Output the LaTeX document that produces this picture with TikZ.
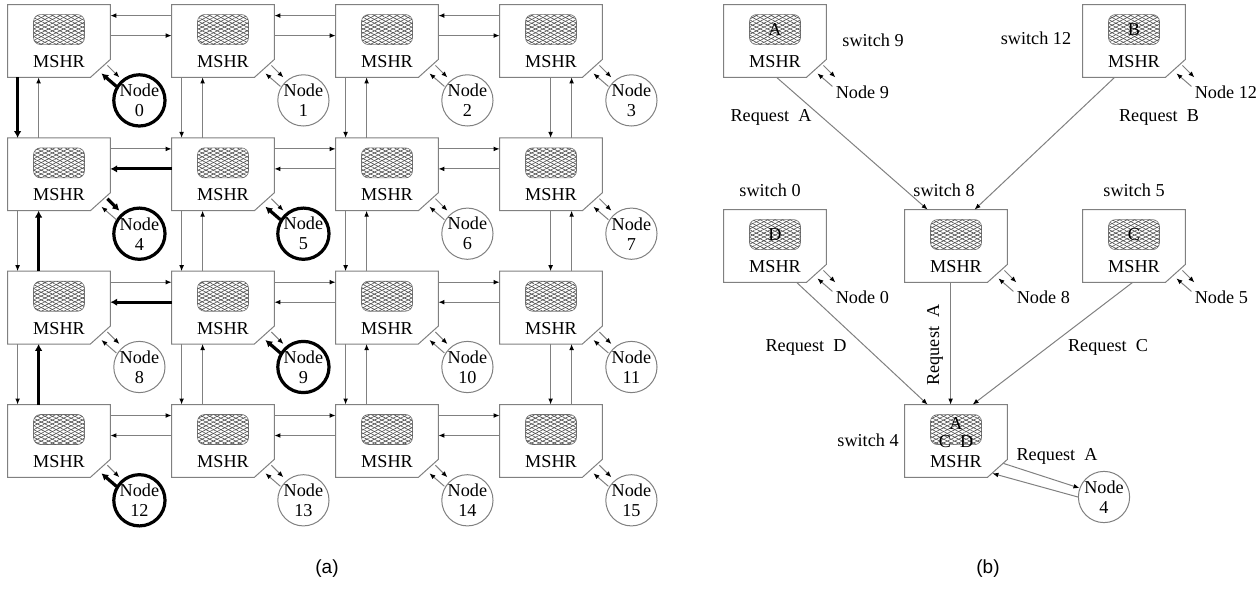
\documentclass[tikz,border=0pt]{standalone}
\usepackage{fontspec}
\setmainfont{Liberation Serif}
\newfontfamily\capsans{Liberation Sans}
\usetikzlibrary{calc,arrows.meta,patterns.meta}

\tikzset{
  wire/.style={draw=black!50, line width=0.5pt},
  link/.style={wire, -{Latex[length=3pt,width=2.4pt,color=black]}},
  boldlink/.style={draw=black, line width=1.6pt, -{Latex[length=3.4pt,width=3.8pt]}},
  boxcore/.style={rectangle, draw=none, minimum width=51pt, minimum height=36pt, inner sep=0pt},
  mesh/.style={rectangle, rounded corners=3.5pt, draw=black!55, line width=0.3pt,
    minimum width=25.5pt, minimum height=15pt, inner sep=0pt,
    pattern={Lines[angle=27,distance=1.7pt,line width=0.3pt]}, pattern color=black!70,
    postaction={pattern={Lines[angle=-27,distance=1.7pt,line width=0.3pt]}, pattern color=black!70}},
  txt/.style={font=\fontsize{9.1}{10}\selectfont, inner sep=0pt},
  pe/.style={circle, draw=black!50, line width=0.5pt, minimum size=25.5pt, inner sep=0pt,
    align=center, font=\fontsize{9.1}{10}\selectfont},
  pebold/.style={pe, draw=black, line width=1.6pt},
  caption/.style={font=\capsans\fontsize{9.5}{11}\selectfont, inner sep=0pt},
}

% switch: chamfered outline, MSHR mesh and its label
\newcommand\swbox[3]{%
  \node[boxcore] (#1) at ({#2+51},{#3+36}) {};
  \draw[wire] (#1.north west) -- (#1.north east) -- ($(#1.south east)+(0,-18)$)
     -- ($(#1.south east)+(-20,0)$) -- (#1.south west) -- cycle;
  \node[mesh] (#1m) at ($(#1.north)+(0,25)$) {};
  \node[txt] (#1t) at ($(#1.north)+(0,57)$) {MSHR};
}
% pair of short links between a switch and its processing node
\newcommand\nodelinks[3]{%
  \draw[#2] ($(#1.south east)+(-3,-12)$) -- ($(#1.south east)+(9,0)$);
  \draw[#3] ($(#1.south east)+(6,9)$) -- ($(#1.south east)+(-9,-4)$);
}

\begin{document}
\begin{tikzpicture}[x=0.5pt, y=-0.5pt]
\useasboundingbox (0,0) rectangle (1256,588);

% ---------- (a) 4x4 mesh ----------
\foreach \i in {0,...,15} {
  \pgfmathtruncatemacro\c{mod(\i,4)}
  \pgfmathtruncatemacro\r{div(\i,4)}
  \pgfmathsetmacro\xl{8+164*\c}
  \pgfmathsetmacro\yt{5+133.3*\r}
  \swbox{s\i}{\xl}{\yt}
}

\foreach \i/\st in {0/pebold,1/pe,2/pe,3/pe,4/pebold,5/pebold,6/pe,7/pe,
                    8/pe,9/pebold,10/pe,11/pe,12/pebold,13/pe,14/pe,15/pe} {
  \node[\st] (n\i) at ($(s\i.south east)+(29,23)$) {Node\\\i};
}

\foreach \i/\so/\si in {0/link/boldlink,1/link/link,2/link/link,3/link/link,
                      4/boldlink/link,5/link/boldlink,6/link/link,7/link/link,
                      8/link/link,9/link/boldlink,10/link/link,11/link/link,
                      12/link/boldlink,13/link/link,14/link/link,15/link/link} {
  \nodelinks{s\i}{\so}{\si}
}

% horizontal channels
\foreach \a/\b/\ry/\ly/\ls in {0/1/31/11/link,1/2/31/11/link,2/3/31/11/link,
    4/5/11/31/boldlink,5/6/11/31/link,6/7/11/31/link,
    8/9/11/31/boldlink,9/10/11/31/link,10/11/11/31/link,
    12/13/11/31/link,13/14/11/31/link,14/15/11/31/link} {
  \draw[link] ($(s\a.north east)+(0,\ry)$) -- ($(s\b.north west)+(0,\ry)$);
  \draw[\ls] ($(s\b.north west)+(0,\ly)$) -- ($(s\a.north east)+(0,\ly)$);
}

% vertical channels
\foreach \a/\b/\dx/\ux/\ds/\us in {0/4/10/31/boldlink/link,4/8/10/31/link/boldlink,8/12/10/31/link/boldlink,
    1/5/10/31/link/link,5/9/10/31/link/link,9/13/10/31/link/link,
    2/6/10/31/link/link,6/10/10/31/link/link,10/14/10/31/link/link,
    3/7/51/72/link/link,7/11/51/72/link/link,11/15/51/72/link/link} {
  \draw[\ds] ($(s\a.south west)+(\dx,0)$) -- ($(s\b.north west)+(\dx,0)$);
  \draw[\us] ($(s\b.north west)+(\ux,0)$) -- ($(s\a.south west)+(\ux,0)$);
}

\node[caption] (capa) at (327,569) {(a)};

% ---------- (b) request merging ----------
\swbox{b9}{724}{5}
\swbox{b12}{1083}{5}
\swbox{b0}{724}{210}
\swbox{b8}{905}{210}
\swbox{b5}{1083}{210}
\swbox{b4}{905}{405}

\node[txt] at (b9m) {A};
\node[txt] at (b12m) {B};
\node[txt] at (b0m) {D};
\node[txt] at (b5m) {C};
\node[txt] at ($(b4m)+(0,-6)$) {A};
\node[txt] at ($(b4m)+(0,12)$) {C\enspace D};

\node[txt] (l9) at (873,40) {switch 9};
\node[txt] (l12) at (1036,38) {switch 12};
\node[txt] (l0) at (770,190) {switch 0};
\node[txt] (l8) at (944,190) {switch 8};
\node[txt] (l5) at (1134,190) {switch 5};
\node[txt] (l4) at (868,440) {switch 4};

\foreach \k in {9,12,0,8,5} {
  \node[txt, anchor=west] (t\k) at ($(b\k.south east)+(9,15)$) {Node \k};
  \nodelinks{b\k}{link}{link}
}

\node[pe] (q4) at (1104,497) {Node\\4};
\draw[link] ($(b4.south east)+(-4,-14)$) -- (q4.160);
\draw[link] (q4.180) -- ($(b4.south east)+(-15,-4)$);

\draw[link] ($(b9.south west)+(53,0)$) -- ($(b8.north west)+(23,0)$);
\draw[link] ($(b12.south west)+(32,0)$) -- ($(b8.north west)+(70,0)$);
\draw[link] ($(b0.south west)+(73,0)$) -- ($(b4.north west)+(23,0)$);
\draw[link] ($(b8.south west)+(46,0)$) -- ($(b4.north west)+(46,0)$);
\draw[link] ($(b5.south west)+(50,0)$) -- ($(b4.north west)+(68,0)$);

\node[txt] (ra1) at (771,117) {Request~~A};
\node[txt] (rb) at (1159,117) {Request~~B};
\node[txt] (rd) at (806,347) {Request~~D};
\node[txt] (rc) at (1108,347) {Request~~C};
\node[txt, rotate=90] (ra2) at (935,345) {Request~~A};
\node[txt] (ra3) at (1057,456) {Request~~A};

\node[caption] (capb) at (988,569) {(b)};
\end{tikzpicture}
\end{document}
